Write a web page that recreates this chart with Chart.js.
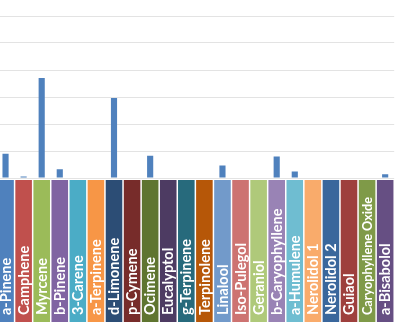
<!DOCTYPE html>
<html>
<head>
<meta charset="utf-8">
<script src="https://cdn.jsdelivr.net/npm/chart.js@4/dist/chart.umd.min.js"></script>
<style>
  html, body { margin: 0; padding: 0; background: #ffffff; overflow: hidden; }
  #wrap { position: absolute; left: -10px; top: 0; width: 420px; height: 329px; }
</style>
</head>
<body>
<div id="wrap"><canvas id="chart" width="420" height="329"></canvas></div>
<script>
// Terpene names, in column order
const terpenes = [
  'a-Pinene', 'Camphene', 'Myrcene', 'b-Pinene', '3-Carene', 'a-Terpinene',
  'd-Limonene', 'p-Cymene', 'Ocimene', 'Eucalyptol', 'g-Terpinene', 'Terpinolene',
  'Linalool', 'Iso-Pulegol', 'Geraniol', 'b-Caryophyllene', 'a-Humulene',
  'Nerolidol 1', 'Nerolidol 2', 'Guiaol', 'Caryophyllene Oxide', 'a-Bisabolol'
];

// Measured content for each terpene
const amounts = [
  0.45, 0.03, 1.85, 0.16, 0, 0,
  1.48, 0, 0.41, 0, 0, 0,
  0.23, 0, 0, 0.40, 0.12,
  0, 0, 0, 0, 0.07
];

// Value axis ticks
const axisTicks = [0, 0.5, 1.0, 1.5, 2.0, 2.5, 3.0];

// Label tile colours, one per terpene
const tileColors = [
  '#4F81BD', '#C0504D', '#9BBB59', '#8064A2', '#4BACC6', '#F79646',
  '#2C4D75', '#772C2A', '#5F7530', '#4D3B62', '#276A7C', '#B65708',
  '#729ACA', '#CD7371', '#AFC97A', '#9983B5', '#6FBDD1',
  '#F9AB6B', '#3A679C', '#9E403D', '#7F9A48', '#664F83'
];

// Draws the coloured name tiles under each column, placed by the x scale
const nameTiles = {
  id: 'nameTiles',
  afterDraw(chart) {
    const ctx = chart.ctx;
    const xs = chart.scales.x;
    const step = xs.getPixelForValue(1) - xs.getPixelForValue(0);
    const w = step - 1.5;
    const top = chart.chartArea.bottom + 2;
    const bottom = 322;
    const textStart = 315;
    const maxLen = 118;
    ctx.save();
    terpenes.forEach((name, i) => {
      const cx = xs.getPixelForValue(i);
      ctx.fillStyle = tileColors[i];
      ctx.fillRect(cx - w / 2, top, w, bottom - top);
      let size = 14.5;
      ctx.font = 'bold ' + size + 'px Lato, "Open Sans", sans-serif';
      const len = ctx.measureText(name).width;
      if (len > maxLen) {
        size = size * maxLen / len;
        ctx.font = 'bold ' + size.toFixed(2) + 'px Lato, "Open Sans", sans-serif';
      }
      ctx.save();
      ctx.translate(cx + 0.5, textStart);
      ctx.rotate(-Math.PI / 2);
      ctx.fillStyle = '#ffffff';
      ctx.textAlign = 'left';
      ctx.textBaseline = 'middle';
      ctx.fillText(name, 0, 0);
      ctx.restore();
    });
    ctx.restore();
  }
};

new Chart(document.getElementById('chart'), {
  type: 'bar',
  data: {
    labels: terpenes,
    datasets: [{
      data: amounts,
      backgroundColor: '#4F81BD',
      borderWidth: 0,
      categoryPercentage: 1.0,
      barPercentage: 0.34
    }]
  },
  options: {
    responsive: false,
    animation: false,
    layout: { padding: { left: 6.5, right: 15.8, top: 16, bottom: 151 } },
    plugins: { legend: { display: false }, tooltip: { enabled: false } },
    scales: {
      x: {
        display: false
      },
      y: {
        min: axisTicks[0],
        max: axisTicks[axisTicks.length - 1],
        afterBuildTicks(scale) { scale.ticks = axisTicks.map(v => ({ value: v })); },
        grid: { color: '#E3E3E3', lineWidth: 1, drawTicks: false },
        border: { display: false },
        ticks: { display: false }
      }
    }
  },
  plugins: [nameTiles]
});
</script>
</body>
</html>
